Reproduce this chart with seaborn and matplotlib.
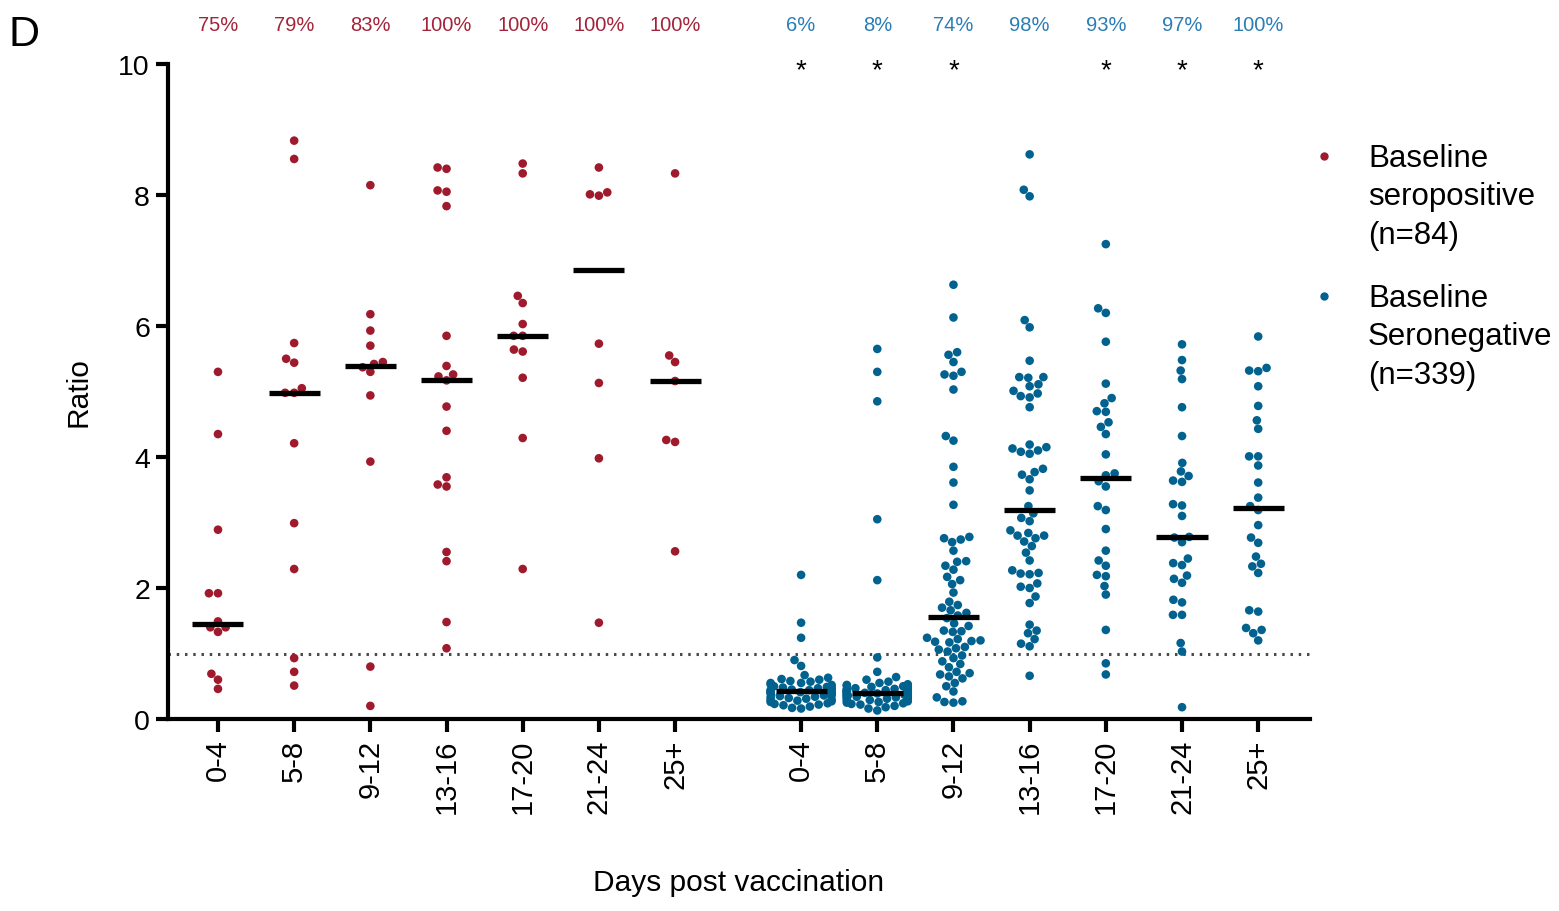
import numpy as np
import pandas as pd
import matplotlib
matplotlib.use("Agg")
import matplotlib.pyplot as plt
from matplotlib.lines import Line2D
import seaborn as sns

# ---------------- data ----------------
day_bins = ["0-4", "5-8", "9-12", "13-16", "17-20", "21-24", "25+"]

# Baseline seropositive (red)
pos_0_4 = [5.30, 4.35, 2.89, 1.92, 1.92, 1.49, 1.40, 1.40, 1.33, 0.69, 0.60, 0.46]
pos_5_8 = [8.83, 8.55, 5.74, 5.44, 5.50, 5.05, 4.98, 4.98, 4.21, 2.99, 2.29, 0.93, 0.72, 0.51]
pos_9_12 = [8.15, 6.18, 5.93, 5.70, 5.45, 5.42, 5.37, 5.30, 4.94, 3.93, 0.80, 0.20]
pos_13_16 = [8.40, 8.42, 8.05, 8.07, 7.83, 5.85, 5.39, 5.23, 5.26, 5.17, 4.77, 4.40,
             3.69, 3.55, 3.58, 2.55, 2.41, 1.48, 1.08]
pos_17_20 = [8.48, 8.33, 6.46, 6.35, 6.03, 5.85, 5.85, 5.64, 5.61, 5.21, 4.29, 2.29]
pos_21_24 = [8.42, 8.04, 7.99, 8.01, 5.73, 5.13, 3.98, 1.47]
pos_25p = [8.33, 5.45, 5.55, 5.16, 4.26, 4.23, 2.56]

# Baseline seronegative (blue)
neg_0_4 = [2.20, 1.47, 1.24, 0.90, 0.81, 0.67,
           0.63, 0.61, 0.60, 0.58, 0.57, 0.55, 0.55, 0.53, 0.52, 0.50, 0.50, 0.49,
           0.48, 0.47, 0.46, 0.46, 0.45, 0.44, 0.44, 0.43, 0.42,
           0.41, 0.40, 0.40, 0.39, 0.38, 0.37, 0.36, 0.36, 0.35, 0.34, 0.33, 0.32,
           0.31, 0.30, 0.29, 0.28, 0.27, 0.26, 0.24, 0.23, 0.22, 0.21, 0.19, 0.17, 0.16]
neg_5_8 = [5.65, 5.30, 4.85, 3.05, 2.12, 0.94, 0.72, 0.64, 0.60, 0.57,
           0.55, 0.53, 0.52, 0.51, 0.50, 0.49, 0.48, 0.48, 0.47, 0.46, 0.46, 0.45,
           0.45, 0.44, 0.44, 0.43, 0.43, 0.42, 0.42, 0.41, 0.40, 0.40,
           0.39, 0.39, 0.38, 0.38, 0.37, 0.37, 0.36, 0.36, 0.35, 0.35,
           0.34, 0.34, 0.33, 0.33, 0.32, 0.31, 0.31, 0.30, 0.29, 0.28,
           0.27, 0.26, 0.25, 0.24, 0.23, 0.22, 0.20, 0.18, 0.16, 0.13]
neg_9_12 = [6.63, 6.13, 5.60, 5.56, 5.45, 5.30, 5.26, 5.24, 5.03, 4.32, 4.25, 3.85,
            3.61, 3.27, 2.78, 2.76, 2.74, 2.70, 2.57, 2.41, 2.40, 2.34, 2.28, 2.17,
            2.12, 2.06, 1.93, 1.79, 1.74, 1.70, 1.66, 1.62, 1.58, 1.54, 1.46, 1.42,
            1.35, 1.34, 1.33, 1.24, 1.22, 1.20, 1.19, 1.18, 1.17, 1.10, 1.08, 1.06,
            1.03, 0.97, 0.93, 0.88, 0.84, 0.79, 0.72, 0.70, 0.68, 0.65, 0.62, 0.55,
            0.50, 0.42, 0.33, 0.27, 0.26, 0.25]
neg_13_16 = [8.62, 7.98, 8.08, 5.98, 6.09, 5.47, 5.22, 5.22, 5.21, 5.08, 5.11,
             4.91, 4.93, 4.97, 5.01, 4.76, 4.10, 4.13, 4.19, 4.08, 4.15, 4.05,
             3.73, 3.82, 3.77, 3.66, 3.49, 3.25, 3.14, 3.07, 3.02,
             2.80, 2.80, 2.88, 2.76, 2.84, 2.71, 2.64, 2.54, 2.42,
             2.21, 2.23, 2.22, 2.27, 2.07, 2.00, 2.02, 1.87, 1.77,
             1.44, 1.31, 1.35, 1.22, 1.11, 1.15, 0.66]
neg_17_20 = [7.25, 6.20, 6.27, 5.76, 5.12, 4.90, 4.82, 4.69, 4.70, 4.53, 4.46, 4.35,
             4.04, 3.75, 3.72, 3.63, 3.55, 3.19, 3.25, 2.90, 2.57, 2.42, 2.34,
             2.18, 2.20, 2.03, 1.90, 1.36, 0.85, 0.68]
neg_21_24 = [5.72, 5.48, 5.32, 5.19, 4.76, 4.32, 3.91, 3.71, 3.62, 3.78, 3.64,
             3.26, 3.28, 3.10, 2.77, 2.78, 2.70, 2.35, 2.38, 2.45, 2.14, 2.08, 2.19,
             1.82, 1.78, 1.59, 1.59, 1.16, 1.03, 0.18]
neg_25p = [5.84, 5.36, 5.31, 5.32, 5.08, 4.78, 4.56, 4.43, 4.01, 4.01, 3.87, 3.61,
           3.38, 3.25, 3.19, 2.96, 2.77, 2.69, 2.48, 2.37, 2.23, 2.33,
           1.64, 1.66, 1.39, 1.36, 1.31, 1.20]

pct_pos = ["75%", "79%", "83%", "100%", "100%", "100%", "100%"]
pct_neg = ["6%", "8%", "74%", "98%", "93%", "97%", "100%"]
sig_neg = ["*", "*", "*", "", "*", "*", "*"]

legend_labels = ["Baseline\nseropositive\n(n=84)", "Baseline\nSeronegative\n(n=339)"]

pos_groups = [pos_0_4, pos_5_8, pos_9_12, pos_13_16, pos_17_20, pos_21_24, pos_25p]
neg_groups = [neg_0_4, neg_5_8, neg_9_12, neg_13_16, neg_17_20, neg_21_24, neg_25p]

# ---------------- layout ----------------
RED = "#9E1A2C"
BLUE = "#01628F"
RED_TXT = "#A3243A"
BLUE_TXT = "#2A7DB5"

red_x = np.arange(7, dtype=float)
blue_x = 6 + 1.654 + np.arange(7, dtype=float)

rows = []
for xp, vals in zip(red_x, pos_groups):
    for v in vals:
        rows.append({"pos": xp, "ratio": v, "group": "pos"})
for xp, vals in zip(blue_x, neg_groups):
    for v in vals:
        rows.append({"pos": xp, "ratio": v, "group": "neg"})
df = pd.DataFrame(rows)

sns.set_style("ticks")
plt.rcParams["font.family"] = ["Liberation Sans", "DejaVu Sans"]
plt.rcParams["text.color"] = "black"
plt.rcParams["axes.labelcolor"] = "black"

fig = plt.figure(figsize=(15.59, 9.12), dpi=100)
ax = fig.add_axes([168 / 1559, 1 - 720 / 912, (1310 - 168) / 1559, (720 - 65) / 912])

sns.swarmplot(data=df, x="pos", y="ratio", hue="group", palette={"pos": RED, "neg": BLUE},
              native_scale=True, orient="x", size=6.2, linewidth=0, legend=False,
              warn_thresh=1, ax=ax, zorder=3)

# median bars
for xs, groups in ((red_x, pos_groups), (blue_x, neg_groups)):
    for xp, vals in zip(xs, groups):
        m = np.median(vals)
        ax.hlines(m, xp - 0.335, xp + 0.335, color="black", lw=3.8, zorder=5)

# threshold line
ax.axhline(1.0, color="#4a4a4a", lw=2.2, ls=(0, (0.8, 1.9)), zorder=1)

ax.set_xlim(-0.656, blue_x[-1] + 0.68)
ax.set_ylim(0, 10)
ax.set_yticks([0, 2, 4, 6, 8, 10])
ax.set_yticklabels(["0", "2", "4", "6", "8", "10"], fontsize=20.5)
ax.set_xticks(np.concatenate([red_x, blue_x]))
ax.set_xticklabels(day_bins + day_bins, rotation=90, fontsize=21)

for s in ("top", "right"):
    ax.spines[s].set_visible(False)
for s in ("left", "bottom"):
    ax.spines[s].set_linewidth(3.0)
    ax.spines[s].set_color("black")
ax.tick_params(axis="both", length=9, width=3.0, color="black", labelcolor="black")
ax.tick_params(axis="y", pad=4)
ax.tick_params(axis="x", pad=5)

ax.set_xlabel("Days post vaccination", fontsize=21.5)
ax.xaxis.set_label_coords(0.5, -0.228)
ax.set_ylabel("Ratio", fontsize=21.5)
ax.yaxis.set_label_coords(-0.066, 0.5)

# percentages and asterisks
trans = ax.get_xaxis_transform()
for xp, t in zip(red_x, pct_pos):
    ax.text(xp, 1.0605, t, color=RED_TXT, fontsize=14.5, ha="center", va="center",
            transform=trans, clip_on=False)
for xp, t, s in zip(blue_x, pct_neg, sig_neg):
    ax.text(xp, 1.0605, t, color=BLUE_TXT, fontsize=14.5, ha="center", va="center",
            transform=trans, clip_on=False)
    if s:
        ax.text(xp, 0.98, s, color="black", fontsize=20, ha="center", va="baseline",
                transform=trans, clip_on=False)

# panel letter
fig.text(8 / 1559, 1 - 35 / 912, "D", fontsize=31, ha="left", va="center")

# legend (manual)
for (label, col, ytop) in ((legend_labels[0], RED, 157), (legend_labels[1], BLUE, 297)):
    fig.add_artist(Line2D([1324 / 1559], [1 - ytop / 912], marker="o", markersize=5,
                          color=col, linestyle="none", transform=fig.transFigure))
    fig.text(1368 / 1559, 1 - (ytop - 13) / 912, label, fontsize=22.5, ha="left",
             va="top", linespacing=1.36)

fig.savefig("out.png", dpi=100)
